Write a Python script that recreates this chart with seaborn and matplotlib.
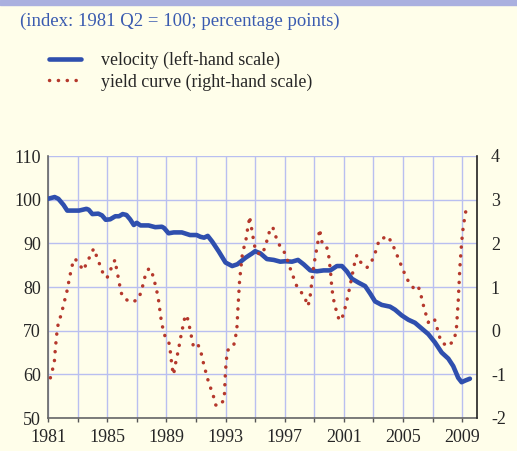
import matplotlib
matplotlib.use("Agg")
import matplotlib.pyplot as plt
import seaborn as sns
import pandas as pd
from matplotlib.patches import Rectangle
from matplotlib.lines import Line2D

# velocity, index 1981 Q2 = 100 (left-hand scale)
vel_year = [1981.0, 1981.45, 1981.7, 1982.05, 1982.3, 1983.1, 1983.6, 1983.75, 1984.0, 1984.4,
            1984.65, 1984.9, 1985.2, 1985.55, 1985.8, 1986.05, 1986.3, 1986.55, 1986.8, 1987.0,
            1987.25, 1987.8, 1988.25, 1988.7, 1988.85, 1989.15, 1989.5, 1990.05, 1990.6, 1991.05,
            1991.3, 1991.55, 1991.8, 1992.1, 1992.55, 1993.0, 1993.45, 1993.8, 1994.35, 1994.8,
            1995.0, 1995.36, 1995.8, 1996.26, 1996.7, 1997.05, 1997.5, 1997.9, 1998.28, 1998.73,
            1999.18, 1999.63, 2000.08, 2000.53, 2000.87, 2001.2, 2001.54, 2001.99, 2002.44, 2002.78,
            2003.11, 2003.56, 2004.12, 2004.46, 2004.91, 2005.36, 2005.81, 2006.26, 2006.71, 2007.16,
            2007.61, 2008.06, 2008.39, 2008.73, 2008.96, 2009.22, 2009.52]
vel_value = [100.2, 100.6, 100.2, 98.8, 97.5, 97.5, 97.9, 97.7, 96.7, 96.8,
             96.4, 95.4, 95.5, 96.2, 96.2, 96.7, 96.5, 95.5, 94.2, 94.7,
             94.1, 94.1, 93.7, 93.8, 93.5, 92.3, 92.5, 92.5, 91.9, 91.9,
             91.5, 91.3, 91.7, 90.4, 88.1, 85.6, 84.8, 85.2, 86.7, 87.7,
             88.2, 87.7, 86.4, 86.2, 85.8, 85.9, 85.8, 86.2, 85.2, 83.8,
             83.6, 83.8, 83.8, 84.8, 84.8, 83.6, 81.9, 81.0, 80.2, 78.5,
             76.7, 75.9, 75.5, 74.8, 73.5, 72.5, 71.8, 70.5, 69.2, 67.3,
             65.0, 63.6, 61.9, 59.2, 58.2, 58.6, 59.0]

# yield curve, percentage points (right-hand scale)
yc_year = [1981.16, 1981.3, 1981.43, 1981.5, 1981.6, 1981.72, 1981.9, 1982.05, 1982.25, 1982.45,
           1982.62, 1982.8, 1983.07, 1983.37, 1983.64, 1983.86, 1984.09, 1984.2, 1984.4, 1984.6,
           1984.79, 1984.99, 1985.22, 1985.4, 1985.55, 1985.62, 1985.73, 1985.94, 1986.16, 1986.68,
           1987.1, 1987.31, 1987.58, 1987.83, 1988.03, 1988.19, 1988.44, 1988.66, 1988.78, 1988.93,
           1989.22, 1989.29, 1989.4, 1989.49, 1989.58, 1989.81, 1990.01, 1990.24, 1990.37, 1990.51,
           1990.84, 1991.13, 1991.29, 1991.54, 1991.83, 1992.19, 1992.33, 1992.51, 1992.91, 1993.0,
           1993.07, 1993.1, 1993.54, 1993.76, 1993.85, 1993.95, 1994.12, 1994.24, 1994.35, 1994.46,
           1994.57, 1994.62, 1994.73, 1994.91, 1995.02, 1995.36, 1995.65, 1995.97, 1996.19, 1996.33,
           1996.75, 1997.04, 1997.38, 1997.79, 1998.12, 1998.39, 1998.57, 1998.7, 1998.96, 1999.25,
           1999.36, 1999.45, 1999.56, 1999.85, 1999.97, 2000.1, 2000.19, 2000.37, 2000.53, 2000.69,
           2000.87, 2001.04, 2001.31, 2001.54, 2001.76, 2001.88, 2002.1, 2002.55, 2002.84, 2003.07,
           2003.4, 2003.67, 2003.94, 2004.24, 2004.69, 2005.09, 2005.36, 2005.7, 2005.99, 2006.15,
           2006.42, 2006.71, 2007.11, 2007.27, 2007.56, 2008.01, 2008.37, 2008.55, 2008.62, 2008.73,
           2008.84, 2008.96, 2009.07, 2009.25]
yc_value = [-1.08, -0.9, -0.71, -0.4, -0.05, 0.23, 0.36, 0.6, 0.85, 1.2,
            1.48, 1.65, 1.56, 1.38, 1.56, 1.72, 1.88, 1.78, 1.6, 1.42,
            1.25, 1.21, 1.38, 1.56, 1.62, 1.44, 1.25, 0.87, 0.73, 0.65,
            0.72, 0.9, 1.27, 1.43, 1.33, 1.14, 0.78, 0.22, 0.03, -0.15,
            -0.31, -0.55, -0.86, -1.01, -0.82, -0.45, -0.08, 0.29, 0.36, 0.18,
            -0.38, -0.32, -0.42, -0.79, -1.15, -1.51, -1.7, -1.73, -1.59, -0.9,
            -0.64, -0.46, -0.36, 0.0, 0.57, 1.14, 1.7, 1.9, 2.0, 2.27,
            2.45, 2.62, 2.41, 2.04, 1.85, 1.73, 1.88, 2.27, 2.38, 2.21,
            1.88, 1.77, 1.42, 1.04, 0.88, 0.73, 0.56, 0.73, 1.48, 2.04,
            2.33, 2.15, 1.96, 1.9, 1.73, 1.35, 0.96, 0.59, 0.42, 0.23,
            0.28, 0.46, 0.85, 1.23, 1.6, 1.73, 1.58, 1.44, 1.56, 1.73,
            2.09, 2.12, 2.17, 2.02, 1.65, 1.32, 1.13, 0.98, 1.04, 0.9,
            0.52, 0.19, 0.28, 0.1, -0.25, -0.36, -0.25, -0.08, 0.1, 0.67,
            1.44, 2.02, 2.38, 2.75]

left_ticks = [50, 60, 70, 80, 90, 100, 110]
right_ticks = [-2, -1, 0, 1, 2, 3, 4]
year_ticks = list(range(1981, 2010, 2))
year_labels = [str(y) if (y - 1981) % 4 == 0 else "" for y in year_ticks]

bg = "#fffeea"
blue = "#2f4fae"
red = "#b5382c"
grid_col = "#b9bff0"

sns.set_theme(style="white")
plt.rcParams["font.family"] = ["Liberation Serif", "DejaVu Serif"]
plt.rcParams["axes.unicode_minus"] = False

fig = plt.figure(figsize=(5.17, 4.51), dpi=100, facecolor=bg)
fig.patches.append(Rectangle((0, 1 - 5 / 451), 1, 5 / 451, transform=fig.transFigure,
                             color="#aab0df", zorder=0))

ax = fig.add_axes([48 / 517, 1 - 418 / 451, (477 - 48) / 517, (418 - 156) / 451])
ax.set_facecolor(bg)
ax2 = ax.twinx()

vel = pd.DataFrame({"year": vel_year, "value": vel_value})
yc = pd.DataFrame({"year": yc_year, "value": yc_value})

sns.lineplot(data=vel, x="year", y="value", ax=ax, color=blue, linewidth=3.3, zorder=3)
sns.lineplot(data=yc, x="year", y="value", ax=ax2, color=red, linewidth=2.5, zorder=4)
ax2.lines[0].set_dashes([0.05, 2.5])
ax2.lines[0].set_dash_capstyle("round")

ax.set_xlim(1981, 2010)
ax.set_ylim(50, 110)
ax2.set_ylim(-2, 4)
ax.set_xticks(year_ticks)
ax.set_xticklabels(year_labels)
ax.set_yticks(left_ticks)
ax2.set_yticks(right_ticks)
ax.set_xlabel("")
ax.set_ylabel("")
ax2.set_ylabel("")

ax.grid(True, color=grid_col, linewidth=1.0)
ax.set_axisbelow(True)
ax2.grid(False)

for a in (ax, ax2):
    a.spines["top"].set_visible(False)
    for side in ("left", "right", "bottom"):
        a.spines[side].set_color("#666666")
        a.spines[side].set_linewidth(1.2)
ax.spines["right"].set_visible(False)
ax2.spines["left"].set_visible(False)
ax2.spines["bottom"].set_visible(False)
ax2.spines["right"].set_color("#222222")

ax.tick_params(axis="x", direction="out", length=3, width=1, color="#555555",
               labelsize=13, pad=5, bottom=True)
ax.tick_params(axis="y", length=0, labelsize=13, pad=5)
ax2.tick_params(axis="y", length=0, labelsize=13, pad=10)

fig.text(20 / 517, 1 - 21 / 451, "(index: 1981 Q2 = 100; percentage points)",
         color="#3a5bb0", fontsize=13.5, ha="left", va="center")

handles = [Line2D([0], [0], color=blue, linewidth=3.3),
           Line2D([0], [0], color=red, linewidth=2.5, dashes=[0.05, 2.5],
                  dash_capstyle="round")]
fig.legend(handles, ["velocity (left-hand scale)", "yield curve (right-hand scale)"],
           loc="upper left", bbox_to_anchor=(49 / 517, 1 - 51 / 451), frameon=False,
           fontsize=12.9, handlelength=1.8, handletextpad=1.1, labelspacing=0.25,
           borderpad=0, borderaxespad=0)

fig.savefig("out.png", dpi=100, facecolor=bg)
